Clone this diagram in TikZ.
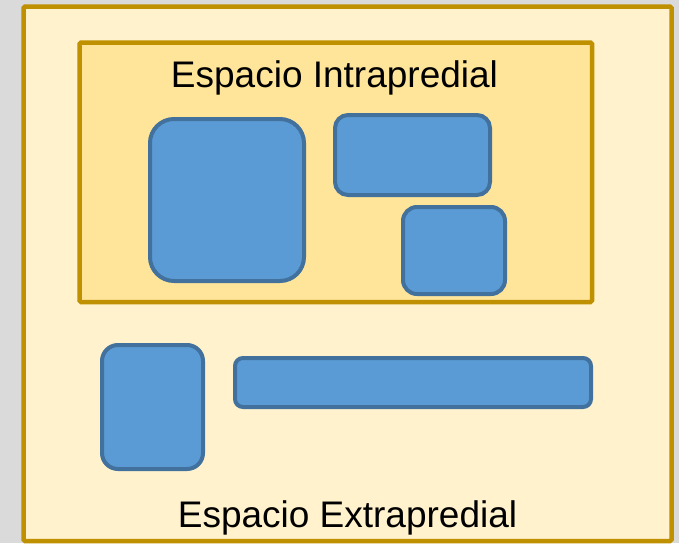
\documentclass[tikz,border=0pt]{standalone}
\usepackage{fontspec}
\setmainfont{Liberation Sans}

\definecolor{pagegray}{HTML}{DADADA}
\definecolor{zoneline}{HTML}{BF9000}
\definecolor{outerfill}{HTML}{FFF2CC}
\definecolor{innerfill}{HTML}{FFE599}
\definecolor{parcelblue}{HTML}{5B9BD5}
\definecolor{parcelline}{HTML}{41719C}

\begin{document}
\begin{tikzpicture}[x=1pt, y=-1pt,
    zone/.style={draw=zoneline, line width=4.5pt, rounded corners=1.5pt},
    parcel/.style={draw=parcelline, fill=parcelblue, line width=4pt, inner sep=0pt},
    label/.style={font=\fontsize{37}{44}\selectfont, anchor=base, inner sep=0pt}]

      \fill[pagegray] (0, 0) rectangle (679, 543);

      % outer and inner zones
      \draw[zone, fill=outerfill] (23.5, 6.5) rectangle (671.5, 541);
      \draw[zone, fill=innerfill] (79.5, 42.5) rectangle (592, 302);

      \node[label] (intra) at (334.5, 87) {Espacio Intrapredial};
      \node[label] (extra) at (347.5, 527) {Espacio Extrapredial};

      % parcels inside
      \node[parcel, minimum width=154pt, minimum height=162pt, rounded corners=24pt] (casa) at (227, 200) {};
      \node[parcel, minimum width=155pt, minimum height=80pt, rounded corners=13pt] (patio) at (412.5, 155) {};
      \node[parcel, minimum width=102pt, minimum height=87pt, rounded corners=14pt] (bodega) at (454, 250.5) {};

      % parcels outside
      \node[parcel, minimum width=101pt, minimum height=124pt, rounded corners=16pt] (poste) at (152.5, 407) {};
      \node[parcel, minimum width=356pt, minimum height=49pt, rounded corners=8pt] (acera) at (413, 382.5) {};
    \end{tikzpicture}
\end{document}
